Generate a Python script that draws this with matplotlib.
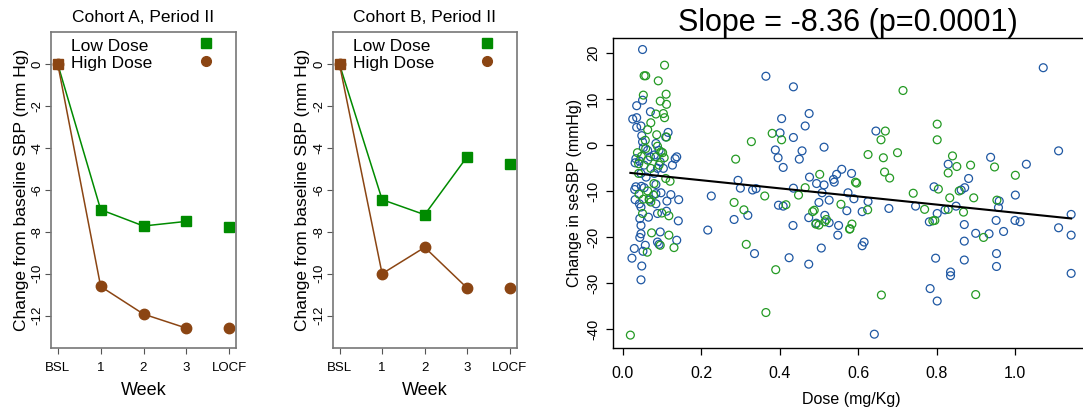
import numpy as np
import matplotlib
matplotlib.use("Agg")
import matplotlib.pyplot as plt

plt.rcParams['font.family'] = ['Liberation Sans', 'DejaVu Sans']

# --- line panels ---
weeks = ["BSL", "1", "2", "3", "LOCF"]
a_low = [0, -6.94, -7.72, -7.50, -7.78]
a_high = [0, -10.61, -11.93, -12.60, -12.60]
b_low = [0, -6.46, -7.18, -4.40, -4.74]
b_high = [0, -10.00, -8.74, -10.69, -10.69]
titles = ["Cohort A, Period II", "Cohort B, Period II"]

# --- scatter panel ---
blue_x = [0.051, 0.036, 0.051, 0.026, 0.036, 0.036, 0.047, 0.071, 0.116, 0.110,
          0.049, 0.051, 0.053, 0.064, 0.085, 0.093, 0.081, 0.138, 0.134, 0.034,
          0.032, 0.043, 0.055, 0.071, 0.096, 0.104, 0.127, 0.047, 0.060, 0.081,
          0.089, 0.034, 0.048, 0.031, 0.055, 0.085, 0.098, 0.123, 0.143, 0.032,
          0.043, 0.047, 0.068, 0.085, 0.113, 0.089, 0.066, 0.112, 0.044, 0.047,
          0.142, 0.047, 0.044, 0.096, 0.089, 0.093, 0.138, 0.058, 0.030, 0.052,
          0.024, 0.049, 0.047, 0.085,
          1.071, 0.365, 0.435, 0.475, 0.405, 0.465, 0.401, 0.435, 0.645, 0.513,
          0.389, 0.457, 0.396, 0.450, 0.409, 1.110, 0.937, 1.028, 0.829, 0.881,
          0.476, 0.294, 0.300, 0.331, 0.340, 0.226, 0.558, 0.545, 0.537, 0.539,
          0.583, 0.494, 0.513, 0.508, 0.574, 0.589, 0.526, 0.435, 0.397, 0.409,
          0.500, 0.515, 0.434, 0.474, 0.571, 0.610, 0.625, 0.526, 0.550, 0.548,
          0.493, 0.506, 0.615, 0.610, 0.424, 0.336, 0.319, 0.284, 0.217, 0.474,
          0.641, 0.783, 0.801, 0.797, 0.835, 0.835, 0.870, 0.870, 0.870, 0.781,
          0.801, 0.793, 0.821, 0.849, 0.871, 0.862, 0.746, 0.678, 0.899, 0.933,
          0.951, 0.952, 0.952, 0.957, 0.959, 0.970, 0.999, 1.012, 1.000, 1.110,
          1.142, 1.142, 1.142]
blue_y = [20.7, 8.5, 9.7, 5.6, 5.9, 3.8, 4.1, 7.2, 2.7, 1.7,
          2.0, 0.65, -0.6, -1.2, 0.3, -1.2, -2.2, -2.6, -3.0, -3.0,
          -3.9, -3.5, -4.4, -2.6, -3.7, -5.1, -4.4, -6.2, -7.0, -6.2,
          -5.1, -9.1, -9.0, -9.7, -9.3, -8.6, -10.4, -10.8, -11.9, -11.9,
          -12.8, -13.5, -12.0, -12.8, -12.2, -14.9, -15.7, -14.4, -16.0, -17.5,
          -16.5, -19.3, -20.1, -18.9, -21.1, -21.6, -20.7, -21.8, -22.5, -23.1,
          -24.6, -26.3, -29.3, -10.6,
          16.75, 14.9, 12.6, 6.8, 5.7, 4.1, 2.6, 1.6, 3.0, -0.5,
          -1.1, -1.3, -2.8, -3.1, -4.9, -1.3, -2.7, -4.2, -4.2, -7.3,
          -7.0, -7.7, -9.4, -9.8, -9.5, -11.1, -5.3, -6.4, -7.5, -8.1,
          -6.2, -8.4, -8.7, -10.4, -10.4, -11.7, -12.0, -9.4, -13.1, -13.3,
          -12.5, -15.3, -17.5, -15.8, -14.3, -14.5, -12.3, -16.9, -17.5, -19.6,
          -17.0, -22.4, -21.1, -21.9, -24.5, -23.6, -15.3, -16.2, -18.5, -25.9,
          -41.1, -31.2, -33.9, -24.6, -27.6, -28.4, -25.0, -20.9, -17.3, -16.7,
          -14.9, -9.1, -14.1, -13.3, -9.3, -9.8, -13.3, -13.8, -19.2, -19.3,
          -16.4, -23.6, -26.4, -13.6, -12.2, -18.8, -16.4, -16.7, -10.9, -18.0,
          -15.1, -19.6, -27.9]
green_x = [0.107, 0.091, 0.055, 0.059, 0.053, 0.111, 0.112, 0.096, 0.085, 0.104,
           0.107, 0.072, 0.064, 0.087, 0.112, 0.058, 0.089, 0.102, 0.038, 0.048,
           0.041, 0.064, 0.085, 0.106, 0.093, 0.072, 0.121, 0.110, 0.042, 0.064,
           0.068, 0.072, 0.079, 0.051, 0.100, 0.118, 0.074, 0.118, 0.096, 0.131,
           0.063, 0.053, 0.041, 0.059, 0.098, 0.080, 0.020,
           0.714, 0.801, 0.801, 0.669, 0.658, 0.381, 0.405, 0.328, 0.700, 0.625,
           0.664, 0.288, 0.667, 0.680, 0.840, 0.886, 0.851, 0.947, 1.000, 0.829,
           0.502, 0.593, 0.596, 0.465, 0.804, 0.740, 0.857, 0.894, 0.833, 0.953,
           0.448, 0.362, 0.284, 0.416, 0.556, 0.309, 0.488, 0.484, 0.624, 0.769,
           0.868, 0.829, 0.519, 0.515, 0.492, 0.500, 0.584, 0.579, 0.578, 0.790,
           0.795, 0.919, 0.315, 0.390, 0.659, 0.899, 0.365]
green_y = [17.3, 13.9, 15.0, 15.0, 10.8, 11.0, 8.8, 9.5, 6.7, 6.8,
           5.9, 4.8, 3.3, 2.2, 1.7, 1.0, -0.3, -1.7, -1.7, -2.5,
           -4.1, -3.3, -2.6, -2.8, -4.4, -5.1, -7.9, -7.3, -10.7, -10.0,
           -11.7, -12.4, -10.9, -14.9, -14.8, -15.4, -19.1, -19.6, -21.8, -22.3,
           -23.3, -11.8, -6.2, -0.8, -1.5, -8.4, -41.3,
           11.8, 4.5, 1.1, 3.0, 1.1, 2.5, 1.1, 0.7, -1.7, -2.1,
           -2.8, -3.1, -5.9, -7.2, -2.4, -4.4, -4.7, -4.8, -6.6, -6.1,
           -6.4, -8.1, -8.3, -9.3, -9.6, -10.5, -10.0, -11.5, -11.5, -12.0,
           -10.9, -11.1, -12.5, -13.0, -12.9, -14.1, -14.2, -14.5, -14.1, -14.0,
           -14.6, -14.0, -16.2, -16.7, -17.2, -17.4, -17.2, -18.2, -18.3, -16.5,
           -16.4, -20.1, -21.6, -27.1, -32.6, -32.5, -36.4]
fit_intercept = -5.91
fit_slope = -8.82
x_ticks = [0.0, 0.2, 0.4, 0.6, 0.8, 1.0]
y_ticks = [20, 10, 0, -10, -20, -30, -40]

GREEN = "#008B00"
BROWN = "#8B4513"
SC_BLUE = "#1f58a3"
SC_GREEN = "#249a24"

W, H = 1083, 407
fig = plt.figure(figsize=(W / 100, H / 100), dpi=100)


def px_axes(l, t, r, b):
    return fig.add_axes([l / W, 1 - b / H, (r - l) / W, (b - t) / H])


xpos = np.arange(len(weeks))
for (l, r), title, low, high in [((51, 236), titles[0], a_low, a_high),
                                 ((332.7, 516.7), titles[1], b_low, b_high)]:
    ax = px_axes(l, 32, r, 348)
    ax.plot(xpos[:4], low[:4], color=GREEN, lw=1.1)
    ax.plot(xpos[:4], high[:4], color=BROWN, lw=1.1)
    ax.plot(xpos[1:], low[1:], 's', color=GREEN, ms=7, mec=GREEN)
    ax.plot(xpos, high, 'o', color=BROWN, ms=7.5)
    ax.plot(xpos[:1], low[:1], 's', color=BROWN, ms=6.5)
    ax.set_xlim(-0.16, 4.16)
    ax.set_ylim(-13.55, 1.55)
    ax.set_xticks(xpos)
    ax.set_xticklabels(weeks, fontsize=9.5)
    ax.set_yticks(range(0, -13, -2))
    ax.set_yticklabels([str(v) for v in range(0, -13, -2)], rotation=90,
                       va='center', fontsize=9.5)
    ax.tick_params(axis='x', length=4, width=0.8, color='#555555', pad=6)
    ax.tick_params(axis='y', length=4, width=0.8, color='#555555', pad=1.5)
    for s in ax.spines.values():
        s.set_color('#777777')
        s.set_linewidth(1.2)
    ax.set_title(title, fontsize=12.5, pad=7)
    ax.set_xlabel("Week", fontsize=13, labelpad=6)
    ax.set_ylabel("Change from baseline SBP (mm Hg)", fontsize=12.5, labelpad=2)
    # legend: text left, marker right
    ax.text(0.11, 0.953, "Low Dose", transform=ax.transAxes, fontsize=12.5,
            va='center', ha='left')
    ax.text(0.11, 0.899, "High Dose", transform=ax.transAxes, fontsize=12.5,
            va='center', ha='left')
    ax.plot([0.84], [0.965], 's', color=GREEN, ms=6.5, transform=ax.transAxes,
            clip_on=False)
    ax.plot([0.84], [0.908], 'o', color=BROWN, ms=7, transform=ax.transAxes,
            clip_on=False)

# scatter panel
ax = px_axes(612.7, 38, 1090, 348)
ax.scatter(blue_x, blue_y, s=32, facecolors='none', edgecolors=SC_BLUE,
           linewidths=0.9)
ax.scatter(green_x, green_y, s=32, facecolors='none', edgecolors=SC_GREEN,
           linewidths=0.9)
all_x = np.array(blue_x + green_x)
fx = np.array([all_x.min(), all_x.max()])
ax.plot(fx, fit_intercept + fit_slope * fx, color='black', lw=1.5)
ax.set_xlim(-0.025, 1.19)
ax.set_ylim(-44.1, 23.2)
ax.set_xticks(x_ticks)
ax.set_xticklabels([f"{v:.1f}" for v in x_ticks], fontsize=11.5)
ax.set_yticks(y_ticks)
ax.set_yticklabels([str(v) for v in y_ticks], rotation=90, va='center',
                   fontsize=10.5)
ax.tick_params(axis='x', length=5, width=0.9, pad=8)
ax.tick_params(axis='y', length=5, width=0.9, pad=4)
for s in ax.spines.values():
    s.set_linewidth(1.0)
ax.set_title("Slope = -8.36 (p=0.0001)", fontsize=22, pad=1, x=0.492)
ax.set_xlabel("Dose (mg/Kg)", fontsize=11.5, labelpad=8)
ax.set_ylabel("Change in seSBP (mmHg)", fontsize=11.5, labelpad=3)

fig.savefig("out.png", dpi=100)
